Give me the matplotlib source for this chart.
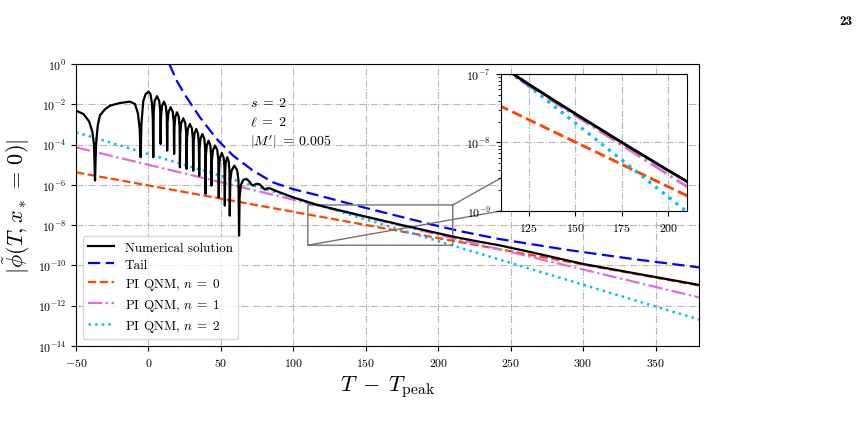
import matplotlib
matplotlib.use("Agg")
import matplotlib.pyplot as plt
import numpy as np

plt.rcParams['font.family'] = 'serif'
plt.rcParams['font.serif'] = ['cmr10']
plt.rcParams['mathtext.fontset'] = 'cm'
plt.rcParams['axes.formatter.use_mathtext'] = True
plt.rcParams['axes.unicode_minus'] = True

# numerical solution: (T - T_peak, log10 |phi|)
num_t = [-50, -45, -41, -38.8, -37.6, -36.9,
         -36.2, -35.0, -33.5, -30, -26.6, -19.7, -12.8, -9.3, -7.3, -6.1, -5.4,
         -4.9, -3.6, -2.0, 0.0, 1.4, 2.4, 3.0, 3.3,
         3.61, 4.32, 5.85, 7.38, 8.09, 8.4,
         8.67, 9.3, 10.65, 12.0, 12.63, 12.9,
         13.19, 13.86, 15.3, 16.74, 17.41, 17.7,
         17.94, 18.5, 19.7, 20.9, 21.46, 21.7,
         21.98, 22.62, 24.0, 25.38, 26.02, 26.3,
         26.58, 27.22, 28.6, 29.98, 30.62, 30.9,
         31.15, 31.72, 32.95, 34.18, 34.75, 35.0,
         35.26, 35.88, 37.2, 38.52, 39.14, 39.4,
         39.65, 40.22, 41.45, 42.68, 43.25, 43.5,
         43.8, 44.5, 46.0, 47.5, 48.2, 48.5,
         48.75, 49.34, 50.6, 51.86, 52.45, 52.7,
         52.9, 53.38, 54.4, 55.42, 55.9, 56.1,
         56.48, 57.38, 59.3, 61.22, 62.12, 62.5,
         62.9, 63.8, 65.5, 67.6, 69.5, 71.0, 72.2, 73.5, 75.0, 76.3, 78.3, 80.2,
         82.0, 83.7, 86.5, 90.6, 99.7, 111.2, 117.7, 125, 140, 150, 175, 200,
         210, 225, 242, 265, 300, 340, 380]
num_log = [-2.32, -2.48, -2.85, -3.35, -4.0, -5.79,
           -4.0, -3.05, -2.55, -2.25, -2.07, -1.94, -1.87, -1.99, -2.45, -3.2, -4.63,
           -3.0, -1.85, -1.5, -1.37, -1.5, -1.95, -2.7, -4.63,
           -2.33, -1.83, -1.6, -1.83, -2.33, -3.97,
           -2.60, -2.10, -1.87, -2.10, -2.60, -4.30,
           -2.88, -2.38, -2.15, -2.38, -2.88, -4.47,
           -3.13, -2.63, -2.40, -2.63, -3.13, -5.13,
           -3.43, -2.93, -2.70, -2.93, -3.43, -5.21,
           -3.71, -3.21, -2.98, -3.21, -3.71, -5.30,
           -3.96, -3.46, -3.23, -3.46, -3.96, -5.55,
           -4.21, -3.71, -3.48, -3.71, -4.21, -6.45,
           -4.54, -4.04, -3.81, -4.04, -4.54, -6.04,
           -4.78, -4.28, -4.05, -4.28, -4.78, -6.62,
           -5.15, -4.65, -4.42, -4.65, -5.15, -7.03,
           -5.36, -4.86, -4.63, -4.86, -5.36, -7.53,
           -5.78, -5.28, -5.05, -5.28, -5.78, -8.52,
           -6.6, -6.0, -5.75, -5.71, -5.82, -5.98, -6.04, -5.98, -5.95, -5.96, -6.08, -6.24,
           -6.17, -6.17, -6.26, -6.37, -6.62, -6.88, -7.02, -7.15, -7.41, -7.58, -8.0, -8.41,
           -8.57, -8.78, -9.0, -9.36, -9.93, -10.45, -10.97]

# tail
tail_t = [14.3, 20, 26.3, 35.5, 47, 58.4, 72.2, 86, 100, 118, 150, 175, 200, 215, 242, 288, 334, 380]
tail_log = [0.0, -0.9, -1.66, -2.65, -3.72, -4.55, -5.30, -5.88, -6.22, -6.54, -7.15, -7.6,
            -8.05, -8.3, -8.69, -9.22, -9.68, -10.1]

# PI QNMs (straight lines in log scale)
qnm_t = [-50, 380]
qnm0_log = [-5.38, -11.0]
qnm1_log = [-4.14, -11.59]
qnm2_log = [-3.39, -12.69]

yticks = [1e0, 1e-2, 1e-4, 1e-6, 1e-8, 1e-10, 1e-12, 1e-14]
xticks = [-50, 0, 50, 100, 150, 200, 250, 300, 350]


def draw_lines(a, lw_scale=1.0, with_tail=True):
    a.plot(num_t, 10.0 ** np.array(num_log), color='k', lw=1.6 * lw_scale,
           label='Numerical solution', zorder=5)
    if with_tail:
        a.plot(tail_t, 10.0 ** np.array(tail_log), color='#0000ff', lw=1.6,
               dashes=(5.5, 2.5), label='Tail')
    a.plot(qnm_t, 10.0 ** np.array(qnm0_log), color='#ff4500', ls='--',
           lw=1.6 * lw_scale, label=r'PI QNM, $n\;=\;0$')
    a.plot(qnm_t, 10.0 ** np.array(qnm1_log), color='orchid', ls='-.',
           lw=1.6 * lw_scale, label=r'PI QNM, $n\;=\;1$')
    a.plot(qnm_t, 10.0 ** np.array(qnm2_log), color='deepskyblue', ls=':',
           lw=1.8 * lw_scale, label=r'PI QNM, $n\;=\;2$')


fig = plt.figure(figsize=(8.67, 4.31), dpi=100)
ax = fig.add_axes([0.0877, 0.195, 0.7186, 0.6543])

draw_lines(ax)
ax.set_yscale('log')
ax.set_xlim(-50, 380)
ax.set_ylim(1e-14, 1e0)
ax.set_yticks(yticks)
ax.yaxis.set_minor_locator(matplotlib.ticker.NullLocator())
ax.set_xticks(xticks)
ax.tick_params(labelsize=8.5)
ax.grid(True, ls='-.', color='0.72', lw=0.8)
ax.set_xlabel(r'$T\;-\;T_{\rm peak}$', fontsize=16)
ax.set_ylabel(r'$|\tilde{\phi}(T, x_*\,=\,0)|$', fontsize=16)

ax.text(0.279, 0.865, r'$s\;=\;2$', transform=ax.transAxes, fontsize=10, va='center')
ax.text(0.279, 0.794, r'$\ell\;=\;2$', transform=ax.transAxes, fontsize=10, va='center')
ax.text(0.279, 0.727, r"$|M'|\;=\;0.005$", transform=ax.transAxes, fontsize=10, va='center')

ax.legend(loc='lower left', fontsize=9.5, labelspacing=0.38)

# inset
axins = ax.inset_axes([0.6817, 0.4787, 0.299, 0.4858])
draw_lines(axins, lw_scale=1.3, with_tail=False)
axins.set_yscale('log')
axins.set_xlim(110, 210)
axins.set_ylim(1e-9, 1e-7)
axins.set_xticks([125, 150, 175, 200])
axins.tick_params(labelsize=8.5)
axins.grid(True, ls='-.', color='0.72', lw=0.8)
ax.indicate_inset_zoom(axins, edgecolor='0.45', alpha=1.0, lw=1.0)

fig.text(0.983, 0.948, '23', fontsize=9.5, family='cmb10', ha='right', va='center')

fig.savefig('out.png', dpi=100)
